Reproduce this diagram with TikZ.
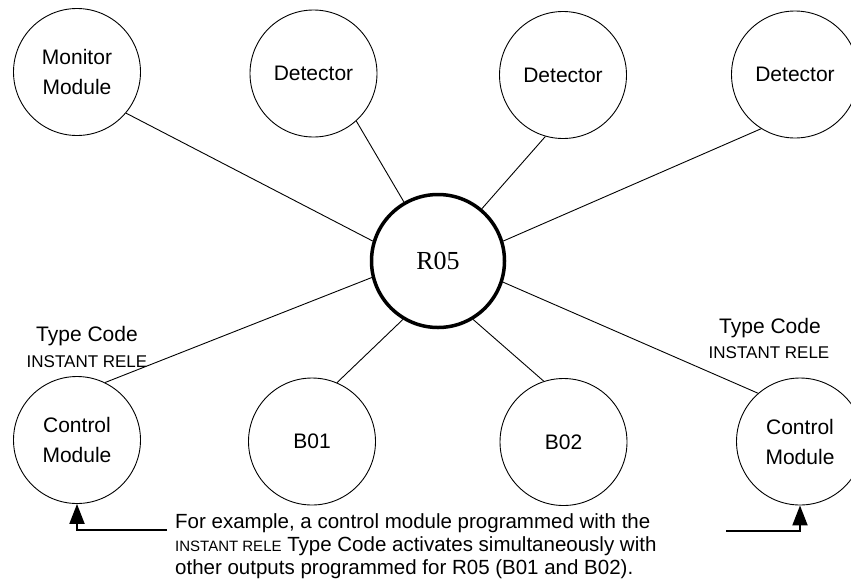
\documentclass[tikz,border=0pt]{standalone}
\usepackage{fontspec}
\setmainfont{Liberation Sans}
\newfontfamily\hubfont{Liberation Serif}
\usetikzlibrary{arrows.meta,positioning}
\tikzset{
  fa/device/.style={draw, circle, line width=0.9pt, inner sep=0pt, minimum size=127pt, align=center, font=\fontsize{21}{30}\selectfont},
  fa/hub/.style={fa/device, line width=3.5pt, minimum size=133pt, font=\hubfont\fontsize{26}{30}\selectfont},
  fa/link/.style={line width=0.9pt},
  fa/typecode/.style={inner sep=0pt, font=\fontsize{21}{24}\selectfont},
  fa/code/.style={inner sep=0pt, font=\fontsize{17}{20}\selectfont},
  fa/note/.style={align=left, inner sep=0pt, font=\fontsize{20.5}{23}\selectfont},
  fa/pointer/.style={line width=2pt, -{Triangle[length=20pt,width=15pt]}}
}

\begin{document}
\begin{tikzpicture}[x=1pt, y=-1pt]
  \useasboundingbox (0,0) rectangle (851,582);
  \node[fa/hub] (hub) at (438,261) {R05};

  \node[fa/device] (mon) at (77,72) {Monitor\\Module};
  \node[fa/device] (det1) at (313.5,73.5) {Detector};
  \node[fa/device] (det2) at (563,75) {Detector};
  \node[fa/device] (det3) at (795,74.5) {Detector};
  \node[fa/device] (ctlL) at (77,440) {Control\\Module};
  \node[fa/device] (b01) at (312,441.5) {B01};
  \node[fa/device] (b02) at (563.5,442) {B02};
  \node[fa/device] (ctlR) at (800,441.5) {Control\\Module};

  \node[fa/typecode] (tcL) at (87,336) {Type Code};
  \node[fa/code] (icL) at (87,362) {INSTANT RELE};
  \node[fa/typecode] (tcR) at (770,328) {Type Code};
  \node[fa/code] (icR) at (769,353) {INSTANT RELE};

  \draw[fa/link] (mon.-40) -- (hub.163);
  \draw[fa/link] (det1.-48) -- (hub.120);
  \draw[fa/link] (det2.254) -- (hub.50);
  \draw[fa/link] (det3.238) -- (hub.17);
  \draw[fa/link] (ctlL.64) -- (hub.194);
  \draw[fa/link] (b01.67) -- (hub.239);
  \draw[fa/link] (b02.108) -- (hub.-59);
  \draw[fa/link] (ctlR.131) -- (hub.-18);

  \node[fa/note, anchor=north west] (note) at (175,513)
    {For example, a control module programmed with the\\
     {\fontsize{15}{23}\selectfont INSTANT RELE} Type Code activates simultaneously with\\
     other outputs programmed for R05 (B01 and B02).};
  \coordinate (noteL) at (167,530);
  \coordinate (noteR) at (726,531);
  \draw[fa/pointer] (noteL) -| (ctlL.south);
  \draw[fa/pointer] (noteR) -| (ctlR.south);
\end{tikzpicture}
\end{document}
